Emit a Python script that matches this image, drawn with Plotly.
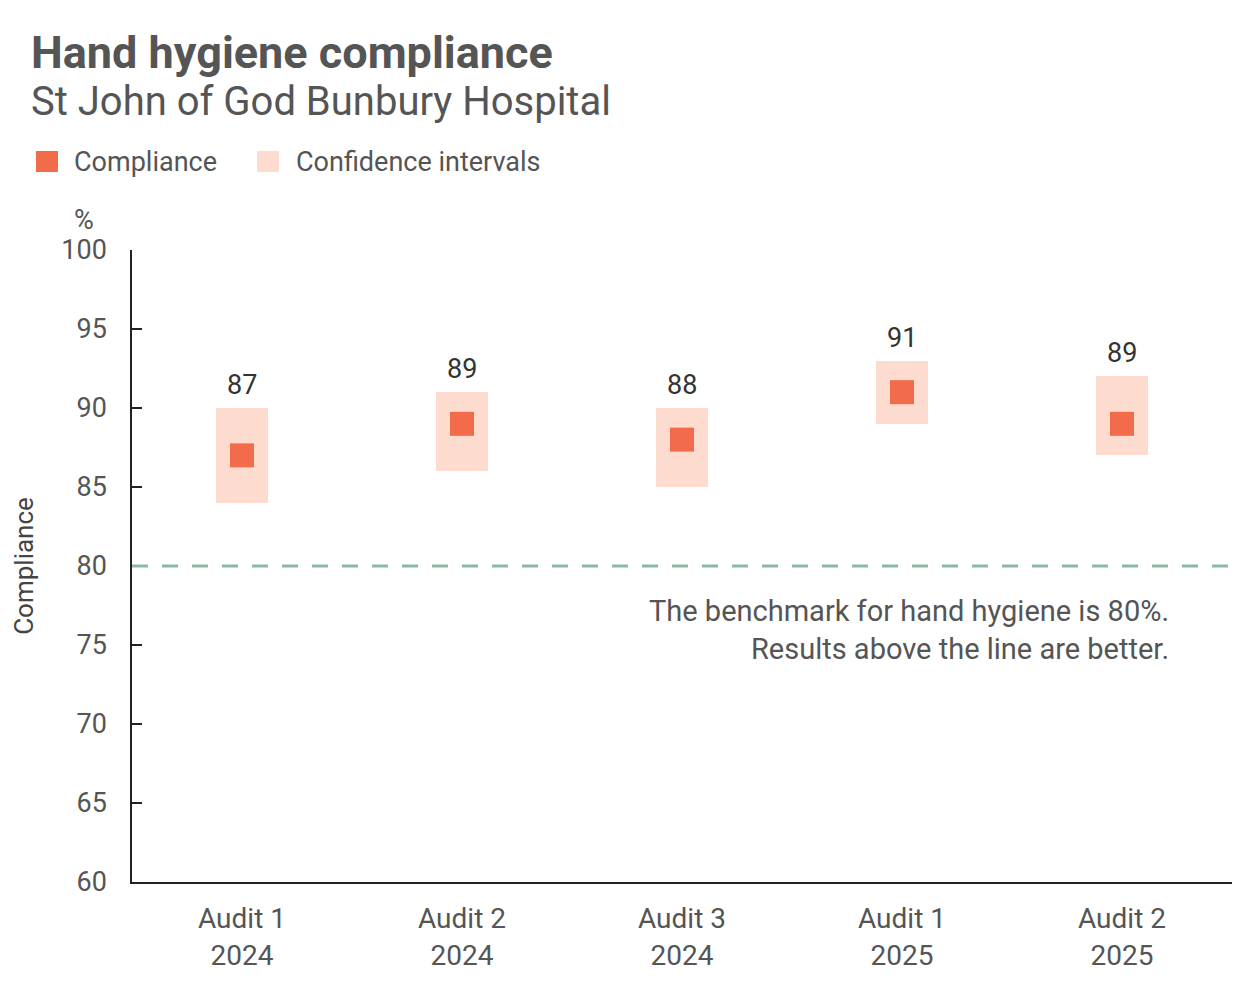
import plotly.graph_objects as go

categories = ["Audit 1<br>2024", "Audit 2<br>2024", "Audit 3<br>2024", "Audit 1<br>2025", "Audit 2<br>2025"]
compliance = [87, 89, 88, 91, 89]
ci_lower = [84, 86, 85, 89, 87]
ci_upper = [90, 91, 90, 93, 92]
benchmark = 80
y_ticks = [60, 65, 70, 75, 80, 85, 90, 95, 100]

FONT = "Roboto"
GREY = "#555555"
DARK = "#444444"
ORANGE = "#f26b4b"
PEACH = "#fddccf"

fig = go.Figure()

fig.add_trace(go.Bar(
    x=categories,
    y=[u - l for u, l in zip(ci_upper, ci_lower)],
    base=ci_lower,
    width=0.236,
    marker=dict(color=PEACH, line=dict(width=0)),
    showlegend=False,
    hoverinfo="skip",
))

fig.add_trace(go.Scatter(
    x=categories,
    y=compliance,
    mode="markers",
    marker=dict(symbol="square", size=24, color=ORANGE),
    showlegend=False,
))

for c, u, v in zip(categories, ci_upper, compliance):
    fig.add_annotation(x=c, y=u, text=str(v), showarrow=False,
                       yanchor="bottom", yshift=5,
                       font=dict(family=FONT, size=27, color="#333333"))

fig.add_shape(type="line", xref="paper", yref="y", x0=0, x1=1,
              y0=benchmark, y1=benchmark,
              line=dict(color="#8cb9a2", width=3, dash="16px,14px"))

fig.add_annotation(xref="paper", yref="y", x=(1171 - 132) / 1100, y=75.95,
                   text="The benchmark for hand hygiene is 80%.<br>Results above the line are better.",
                   showarrow=False, xanchor="right", yanchor="middle", align="right",
                   font=dict(family=FONT, size=29, color=GREY))

def px_x(p):
    return (p - 132) / 1100
def px_y(p):
    return (882 - p) / 632

# Titles
fig.add_annotation(xref="paper", yref="paper", x=px_x(29), y=px_y(52), xanchor="left", yanchor="middle",
                   text="<b>Hand hygiene compliance</b>", showarrow=False,
                   font=dict(family=FONT, size=45, color=GREY))
fig.add_annotation(xref="paper", yref="paper", x=px_x(29), y=px_y(101), xanchor="left", yanchor="middle",
                   text="St John of God Bunbury Hospital", showarrow=False,
                   font=dict(family=FONT, size=40, color=GREY))

# Legend (manual)
fig.add_shape(type="rect", xref="paper", yref="paper",
              x0=px_x(36), x1=px_x(58), y0=px_y(172), y1=px_y(151),
              fillcolor=ORANGE, line=dict(width=0))
fig.add_annotation(xref="paper", yref="paper", x=px_x(72), y=px_y(162), xanchor="left", yanchor="middle",
                   text="Compliance", showarrow=False, font=dict(family=FONT, size=27, color=GREY))
fig.add_shape(type="rect", xref="paper", yref="paper",
              x0=px_x(257), x1=px_x(279), y0=px_y(172), y1=px_y(151),
              fillcolor=PEACH, line=dict(width=0))
fig.add_annotation(xref="paper", yref="paper", x=px_x(294), y=px_y(162), xanchor="left", yanchor="middle",
                   text="Confidence intervals", showarrow=False, font=dict(family=FONT, size=27, color=GREY))

fig.add_annotation(xref="paper", yref="paper", x=px_x(84), y=px_y(220), xanchor="center", yanchor="middle",
                   text="%", showarrow=False, font=dict(family=FONT, size=27, color=GREY))

fig.update_layout(
    width=1260, height=981,
    margin=dict(l=132, r=28, t=250, b=99),
    paper_bgcolor="white", plot_bgcolor="white",
    font=dict(family=FONT, color=GREY),
    bargap=0,
)

fig.update_xaxes(
    type="category", range=[-0.5, 4.5], automargin=False,
    showline=True, linecolor="#222222", linewidth=1.5,
    showgrid=False, ticks="", zeroline=False,
    tickfont=dict(family=FONT, size=28, color=GREY),
    ticklabelstandoff=11,
)

fig.update_yaxes(
    range=[60, 100], tickvals=y_ticks, automargin=False,
    showline=True, linecolor="#222222", linewidth=1.5,
    showgrid=False, zeroline=False,
    ticks="inside", ticklen=10, tickcolor="#222222", tickwidth=1.5,
    tickfont=dict(family=FONT, size=27, color=GREY),
    ticklabelstandoff=18,
    title=dict(text="Compliance", font=dict(family=FONT, size=26, color=DARK), standoff=20),
)

fig.write_html("out.html")
